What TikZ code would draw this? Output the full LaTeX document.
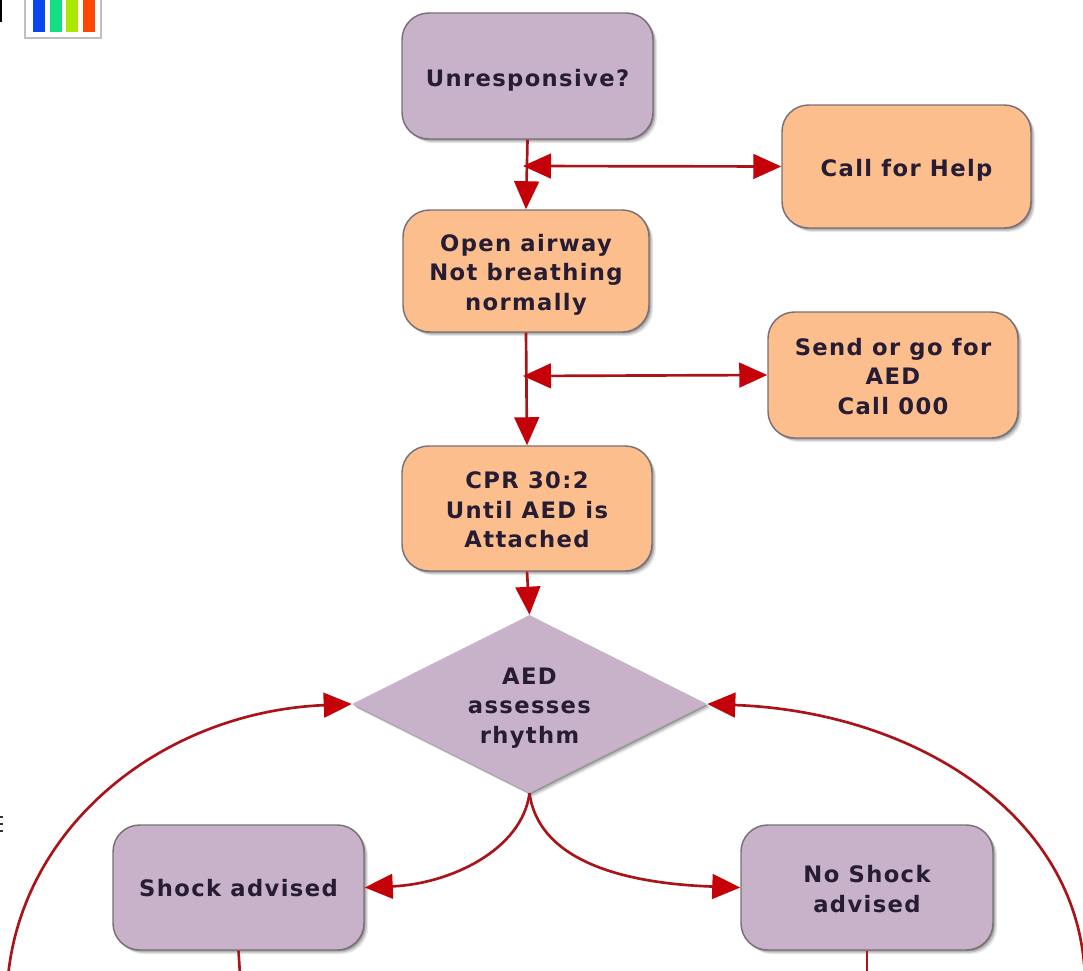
\documentclass[tikz,border=0pt]{standalone}
\usepackage{fontspec}
\setmainfont{DejaVu Sans}[LetterSpace=6]
\usetikzlibrary{shapes.geometric,shadows,arrows.meta}
\definecolor{plum}{RGB}{199,178,201}
\definecolor{peach}{RGB}{252,190,140}
\definecolor{edgegray}{RGB}{120,112,118}
\definecolor{linkred}{RGB}{170,20,25}
\definecolor{tipred}{RGB}{196,0,8}
\definecolor{ink}{RGB}{38,28,52}
\newcommand\lbl[2][3]{\vbox{\kern#1pt\hbox{\begin{tabular}{@{}c@{}}#2\end{tabular}}}}
\tikzset{
  x=0.75pt,y=-0.75pt,
  softshadow/.style={
    general shadow={shadow xshift=1pt,shadow yshift=-1pt,opacity=.22,fill=black},
    general shadow={shadow xshift=2pt,shadow yshift=-2pt,opacity=.16,fill=black},
    general shadow={shadow xshift=3pt,shadow yshift=-3pt,opacity=.10,fill=black}},
  boxbase/.style={draw=edgegray,line width=1.1pt,rounded corners=20pt,softshadow,
    font=\fontsize{17}{22}\selectfont\bfseries,text=ink,inner sep=0pt},
  plumbox/.style={boxbase,fill=plum},
  peachbox/.style={boxbase,fill=peach},
  decision/.style={diamond,aspect=2,fill=plum,softshadow,inner sep=0pt,
    font=\fontsize{17}{22}\selectfont\bfseries,text=ink},
  link/.style={draw=linkred,line width=2pt},
  onetip/.style={link,-{Triangle[length=21pt,width=18.5pt,color=tipred]}},
  twotip/.style={link,{Triangle[length=21pt,width=18.5pt,color=tipred]}-{Triangle[length=21pt,width=18.5pt,color=tipred]}},
}
\begin{document}
\begin{tikzpicture}
\useasboundingbox (0,0) rectangle (1083,971);
\clip (0,0) rectangle (1083,971);
% corner icon
\draw[draw=black!25,fill=white,line width=1.2pt] (25,-5) rectangle (101,38);
\fill[fill={rgb,255:red,10;green,70;blue,240}] (33,-2) rectangle (45,32);
\fill[fill={rgb,255:red,20;green,222;blue,130}] (50,-2) rectangle (62,32);
\fill[fill={rgb,255:red,170;green,230;blue,0}] (66,-2) rectangle (78,32);
\fill[fill={rgb,255:red,255;green,70;blue,0}] (83,-2) rectangle (95,32);
% page-edge marks
\draw[black,line width=2pt] (1,0) -- (1,22);
\draw[black!80,line width=.8pt] (0,817) -- (3,817) (0,824) -- (3,824) (0,831) -- (3,831);
% nodes
\node[plumbox,minimum width=251*0.75pt,minimum height=126*0.75pt] (unresp) at (527.5,76) {\lbl[7.5]{Unresponsive?}};
\node[peachbox,minimum width=249*0.75pt,minimum height=123*0.75pt] (help) at (906.5,166.5) {\lbl[6]{Call for Help}};
\node[peachbox,minimum width=246*0.75pt,minimum height=122*0.75pt] (airway) at (526,271) {\lbl[6]{Open airway\\Not breathing\\normally}};
\node[peachbox,minimum width=250*0.75pt,minimum height=126*0.75pt] (send) at (893,375) {\lbl[6]{Send or go for\\AED\\Call 000}};
\node[peachbox,minimum width=250*0.75pt,minimum height=125*0.75pt] (cpr) at (527,508.5) {\lbl[5.5]{CPR 30:2\\Until AED is\\Attached}};
\node[decision,minimum width=355*0.75pt,minimum height=178*0.75pt] (aed) at (529.5,704) {\lbl[6]{AED\\assesses\\rhythm}};
\node[plumbox,minimum width=251*0.75pt,minimum height=125*0.75pt] (shock) at (238.5,887.5) {\lbl[4.5]{Shock advised}};
\node[plumbox,minimum width=252*0.75pt,minimum height=125*0.75pt] (noshock) at (867,887.5) {\lbl[6]{No Shock\\advised}};
% free ends and junctions
\coordinate (j1) at (523,166);
\coordinate (j2) at (523,376);
\coordinate (shockout) at (240,975);
\coordinate (noshockout) at (867,975);
\coordinate (leftin) at (7,990);
\coordinate (rightin) at (1085,985);
% connectors
\draw[onetip] (unresp.south) -- (airway.north);
\draw[twotip] (j1) -- (help.west);
\draw[onetip] (airway.south) -- (cpr.north);
\draw[twotip] (j2) -- (send.west);
\draw[onetip] (cpr.south) -- (aed.north);
\draw[onetip] (aed.south) .. controls (522,850) and (450,884) .. (shock.east);
\draw[onetip] (aed.south) .. controls (538,855) and (610,883) .. (noshock.west);
\draw[link] (shock.south) -- (shockout);
\draw[link] (noshock.south) -- (noshockout);
\draw[onetip] (leftin) .. controls (15,830) and (160,712) .. (aed.west);
\draw[onetip] (rightin) .. controls (1085,820) and (920,712) .. (aed.east);
\end{tikzpicture}
\end{document}
